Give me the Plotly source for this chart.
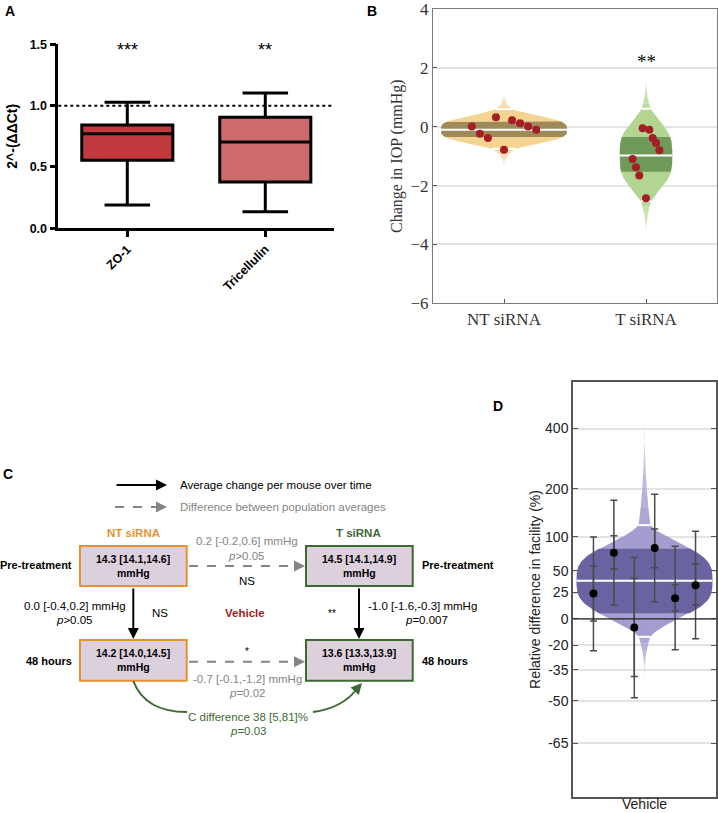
import numpy as np
import plotly.graph_objects as go

W_PX, H_PX = 718, 813
SANS = "Liberation Sans, Arial, sans-serif"
SERIF = "Liberation Serif, Times New Roman, serif"

# ---------------- Panel A data ----------------
a_genes = ["ZO-1", "Tricellulin"]
a_lower = [0.19, 0.135]
a_q1 = [0.555, 0.378]
a_median = [0.771, 0.704]
a_q3 = [0.842, 0.905]
a_upper = [1.027, 1.103]
a_stars = ["***", "**"]
a_colors = ["#c1393c", "#cd6a6d"]
a_reference = 1.0
a_yticks = [0.0, 0.5, 1.0, 1.5]

# ---------------- Panel B data ----------------
b_groups = ["NT siRNA", "T siRNA"]
b_nt_values = [0.01, -0.24, -0.38, 0.32, -0.78, 0.22, 0.12, 0.01, -0.10]
b_t_values = [-1.10, -1.38, -1.66, -0.05, -2.43, -0.10, -0.38, -0.55, -0.80]
b_mean = [-0.10, -0.98]
b_ci = [(-0.35, 0.18), (-1.53, -0.35)]
b_inner = [(-0.75, 0.59), (-2.52, 0.61)]
b_tails = [(-1.5, 1.3), (-4.1, 2.05)]
b_scale = [0.45, 1.08]
b_star = "**"
b_star_y = 2.22

# ---------------- Panel C data ----------------
c_nt_pre = (14.3, 14.1, 14.6)
c_t_pre = (14.5, 14.1, 14.9)
c_nt_48 = (14.2, 14.0, 14.5)
c_t_48 = (13.6, 13.3, 13.9)
c_diff_pre = (0.2, -0.2, 0.6)
c_diff_48 = (-0.7, -0.1, -1.2)
c_nt_change = (0.0, -0.4, 0.2)
c_t_change = (-1.0, -1.6, -0.3)
c_facility = (38, 5, 81)
c_p = {"diff_pre": ">0.05", "diff_48": "=0.02", "nt": ">0.05", "t": "=0.007", "fac": "=0.03"}

# ---------------- Panel D data ----------------
d_group = "Vehicle"
d_pct = [24, 75, -7, 82, 19, 33]
d_outer_lo = [-23.5, 12.3, -48.6, 15.7, -23, -15.5]
d_outer_hi = [100, 173, 68, 187, 85, 110]
d_inner_lo = [-1.7, 52.6, -38.5, 54, 7, 12.6]
d_inner_hi = [56, 102, 41, 114, 33.6, 59]
d_mean = 38
d_ci = (5, 81)
d_inner = (-14, 121)
d_tails = (-45, 600)
d_ticks = [400, 200, 100, 50, 25, 0, -20, -35, -50, -65]
d_range_pct = (-77.8, 641)


def PX(x):
    return x / W_PX


def PY(y):
    return 1 - y / H_PX


def make_hw(c, s, W, inner, tails, p=3.3, k=3.0):
    lo_in, hi_in = inner
    lo_end, hi_end = tails

    def core(u):
        return W * np.exp(-0.5 * np.abs((np.asarray(u, float) - c) / s) ** p)

    def hw(u):
        u = np.atleast_1d(np.asarray(u, float))
        w = core(np.clip(u, lo_in, hi_in))
        a = u > hi_in
        w[a] = core(hi_in) * np.clip((hi_end - u[a]) / (hi_end - hi_in), 0, 1) ** k
        b = u < lo_in
        w[b] = core(lo_in) * np.clip((u[b] - lo_end) / (lo_in - lo_end), 0, 1) ** k
        return w
    return hw


def poly(xc, u0, u1, hw, color, opacity, xa, ya, tf):
    u = np.linspace(u0, u1, 120)
    w = hw(u)
    xs = np.concatenate([xc + w, (xc - w)[::-1]])
    ys = np.concatenate([tf(u), tf(u)[::-1]])
    return go.Scatter(x=xs, y=ys, fill="toself", fillcolor=color, opacity=opacity,
                      mode="lines", line=dict(width=0, color=color), hoverinfo="skip",
                      showlegend=False, xaxis=xa, yaxis=ya)


def add_violin(fig, xc, hw, mean, band, inner, tails, cols, xa, ya, tf=lambda u: u):
    nseg = 8
    for start, end in [(inner[1], tails[1]), (inner[0], tails[0])]:
        edges = np.linspace(start, end, nseg + 1)
        for i in range(nseg):
            op = 0.9 - 0.75 * i / (nseg - 1)
            fig.add_trace(poly(xc, edges[i], edges[i + 1], hw, cols[0], op, xa, ya, tf))
    fig.add_trace(poly(xc, inner[0], inner[1], hw, cols[0], 1, xa, ya, tf))
    fig.add_trace(poly(xc, band[0], band[1], hw, cols[1], 1, xa, ya, tf))
    for u in [mean, inner[0], inner[1]]:
        w = hw(u)[0]
        fig.add_trace(go.Scatter(x=[xc - w, xc + w], y=[tf(np.array([u]))[0]] * 2, mode="lines",
                                 line=dict(color="white", width=2), hoverinfo="skip",
                                 showlegend=False, xaxis=xa, yaxis=ya))


fig = go.Figure()

# ================= Panel A =================
for i, g in enumerate(a_genes):
    fig.add_trace(go.Box(x=[i], q1=[a_q1[i]], median=[a_median[i]], q3=[a_q3[i]],
                         lowerfence=[a_lower[i]], upperfence=[a_upper[i]],
                         fillcolor=a_colors[i], line=dict(color="black", width=3),
                         width=0.66, whiskerwidth=0.5, boxpoints=False,
                         showlegend=False, xaxis="x", yaxis="y", hoverinfo="skip"))

# ================= Panel B =================
b_cols = [("#f4d492", "#9f8a5a"), ("#b2d692", "#6f9a59")]
b_series = [b_nt_values, b_t_values]
for i in range(2):
    xc = i + 1
    W = 0.2 / b_scale[i]
    hw = make_hw(b_mean[i], b_scale[i], W, b_inner[i], b_tails[i])
    add_violin(fig, xc, hw, b_mean[i], b_ci[i], b_inner[i], b_tails[i], b_cols[i], "x2", "y2")
    vals = b_series[i]
    offs = np.linspace(-0.51 * W, 0.51 * W, len(vals))
    fig.add_trace(go.Scatter(x=xc + offs, y=vals, mode="markers",
                             marker=dict(color="#a51e24", size=8), showlegend=False,
                             hoverinfo="skip", xaxis="x2", yaxis="y2"))

# ================= Panel D =================
to_log2 = lambda pct: np.log2(1 + np.asarray(pct, float) / 100)
from_log2 = lambda u: 2 ** np.asarray(u, float)
d_hw = make_hw(float(to_log2(d_mean)), 0.42, 0.475,
               tuple(to_log2(d_inner)), tuple(to_log2(d_tails)))
add_violin(fig, 0, d_hw, float(to_log2(d_mean)), tuple(to_log2(d_ci)),
           tuple(to_log2(d_inner)), tuple(to_log2(d_tails)),
           ("#a49dcf", "#6a63a2"), "x3", "y3", tf=from_log2)

d_y = 1 + np.array(d_pct) / 100
d_x = np.linspace(-0.357, 0.357, len(d_pct))
fig.add_trace(go.Scatter(
    x=d_x, y=d_y, mode="markers", marker=dict(size=1, color="rgba(0,0,0,0)"),
    error_y=dict(type="data", symmetric=False,
                 array=1 + np.array(d_outer_hi) / 100 - d_y,
                 arrayminus=d_y - (1 + np.array(d_outer_lo) / 100),
                 color="#4a4a4a", thickness=1.5, width=3.5),
    showlegend=False, hoverinfo="skip", xaxis="x3", yaxis="y3"))
fig.add_trace(go.Scatter(
    x=d_x, y=d_y, mode="markers", marker=dict(size=1, color="rgba(0,0,0,0)"),
    error_y=dict(type="data", symmetric=False,
                 array=1 + np.array(d_inner_hi) / 100 - d_y,
                 arrayminus=d_y - (1 + np.array(d_inner_lo) / 100),
                 color="#4a4a4a", thickness=1.5, width=3.5),
    showlegend=False, hoverinfo="skip", xaxis="x3", yaxis="y3"))
fig.add_trace(go.Scatter(x=d_x, y=d_y, mode="markers",
                         marker=dict(size=8, color="black"), showlegend=False,
                         hoverinfo="skip", xaxis="x3", yaxis="y3"))

# ================= Axes =================
bold_tick = dict(family=SANS, size=12.5, color="black", weight="bold")
fig.update_layout(
    width=W_PX, height=H_PX, margin=dict(l=0, r=0, t=0, b=0, autoexpand=False),
    paper_bgcolor="white", plot_bgcolor="white", showlegend=False,
    xaxis=dict(domain=[58.3 / W_PX, 334.3 / W_PX], anchor="y", range=[-0.5, 1.5],
               automargin=False, ticklabeloverflow="allow",
               tickvals=[0, 1], ticktext=a_genes, tickangle=-45, tickfont=bold_tick,
               showline=True, linecolor="black", linewidth=2.5, ticks="outside",
               ticklen=6, tickwidth=2.5, tickcolor="black", showgrid=False, zeroline=False),
    yaxis=dict(domain=[PY(228.3), PY(44.3)], anchor="x", range=[0, 1.5],
               automargin=False, ticklabeloverflow="allow",
               tickvals=a_yticks, tickformat=".1f", tickfont=bold_tick,
               showline=True, linecolor="black", linewidth=2.5, ticks="outside",
               ticklen=6, tickwidth=2.5, tickcolor="black", showgrid=False, zeroline=False,
               title=dict(text="2^-(ΔΔCt)", standoff=9,
                          font=dict(family=SANS, size=14, color="black", weight="bold"))),
    xaxis2=dict(domain=[433 / W_PX, 717 / W_PX], anchor="y2", range=[0.5, 2.5],
                automargin=False, ticklabeloverflow="allow",
                tickvals=[1, 2], ticktext=b_groups,
                tickfont=dict(family=SERIF, size=17, color="#333"),
                showline=True, mirror=True, linecolor="#7a7a7a", linewidth=1.2,
                ticks="inside", ticklen=4, tickcolor="#555", showgrid=False, zeroline=False),
    yaxis2=dict(domain=[PY(303.3), PY(9)], anchor="x2", range=[-6, 4], dtick=2,
                automargin=False, ticklabeloverflow="allow",
                tickfont=dict(family=SERIF, size=17, color="#333"),
                showline=True, mirror=True, linecolor="#7a7a7a", linewidth=1.2,
                ticks="inside", ticklen=4, tickcolor="#555",
                showgrid=True, gridcolor="#e4e4e4", gridwidth=1.5, zeroline=False,
                title=dict(text="Change in IOP (mmHg)", standoff=3,
                           font=dict(family=SERIF, size=16, color="#333"))),
    xaxis3=dict(domain=[573 / W_PX, 716 / W_PX], anchor="y3", range=[-0.5, 0.5],
                automargin=False, showticklabels=False,
                showline=True, mirror=True, linecolor="#555", linewidth=1.5,
                ticks="", showgrid=False, zeroline=False),
    yaxis3=dict(domain=[PY(797), PY(382)], anchor="x3", type="log",
                automargin=False, ticklabeloverflow="allow",
                range=[np.log10(1 + d_range_pct[0] / 100), np.log10(1 + d_range_pct[1] / 100)],
                tickvals=[1 + t / 100 for t in d_ticks], ticktext=[str(t) for t in d_ticks],
                tickfont=dict(family=SANS, size=14, color="#222"),
                showline=True, mirror="ticks", linecolor="#555", linewidth=1.5,
                ticks="inside", ticklen=5, tickcolor="#555",
                showgrid=True, gridcolor="#e3e3e3", gridwidth=1.5, zeroline=False,
                title=dict(text="Relative difference in facility (%)", standoff=1,
                           font=dict(family=SANS, size=14, color="#222"))),
)

shapes = []
annotations = []

# Panel A reference line and stars
shapes.append(dict(type="line", xref="x domain", yref="y", x0=0, x1=1,
                   y0=a_reference, y1=a_reference, line=dict(color="black", width=2, dash="dot")))
for i, s in enumerate(a_stars):
    annotations.append(dict(x=i, y=1.45, xref="x", yref="y", text=s, showarrow=False,
                            font=dict(family=SANS, size=18, color="black")))

# Panel B star
annotations.append(dict(x=2, y=b_star_y, xref="x2", yref="y2", text=b_star, showarrow=False,
                        font=dict(family=SERIF, size=19, color="black")))

# Panel D zero line and category label
shapes.append(dict(type="line", xref="x3 domain", yref="y3", x0=0, x1=1, y0=1, y1=1,
                   line=dict(color="#222", width=1.3), layer="above"))
annotations.append(dict(x=0, y=PY(804), xref="x3", yref="paper", text=d_group,
                        showarrow=False, yanchor="middle",
                        font=dict(family=SANS, size=14, color="#222")))

# Panel letters
for lab, x, y in [("A", 10, 11), ("B", 372, 11), ("C", 8, 474), ("D", 498, 406)]:
    annotations.append(dict(x=PX(x), y=PY(y), xref="paper", yref="paper", text=lab,
                            showarrow=False, xanchor="center", yanchor="middle",
                            font=dict(family=SANS, size=14, color="black", weight="bold")))

# ================= Panel C (diagram) =================
GRAY = "#858585"
ORANGE = "#e6932f"
GREEN = "#3d6a31"
BOXFILL = "#ddd0dd"


def txt(t, x, y, color="black", size=11.5, bold=False, xanchor="center"):
    annotations.append(dict(x=PX(x), y=PY(y), xref="paper", yref="paper", text=t,
                            showarrow=False, xanchor=xanchor, yanchor="middle",
                            font=dict(family=SANS, size=size, color=color,
                                      weight="bold" if bold else "normal")))


def arrow(x0, y0, x1, y1, color, width=2):
    annotations.append(dict(x=PX(x1), y=PY(y1), xref="paper", yref="paper", text="",
                            showarrow=True, ax=x0 - x1, ay=y0 - y1, arrowhead=2,
                            arrowsize=1.1, arrowwidth=width, arrowcolor=color, standoff=0))


def dashed_arrow(x0, y, x1, color):
    shapes.append(dict(type="line", xref="paper", yref="paper", x0=PX(x0), x1=PX(x1 - 8),
                       y0=PY(y), y1=PY(y), line=dict(color=color, width=2, dash="dash")))
    arrow(x1 - 9, y, x1, y, color)


def fmt(v):
    return f"{v[0]:.1f} [{v[1]:.1f},{v[2]:.1f}]"


# legend
arrow(115, 485, 167, 485, "black")
txt("Average change per mouse over time", 178, 485, xanchor="left")
dashed_arrow(115, 507, 167, GRAY)
txt("Difference between population averages", 178, 507, color=GRAY, xanchor="left")

txt("NT siRNA", 133.3, 533, color=ORANGE, bold=True)
txt("T siRNA", 358, 533, color=GREEN, bold=True)

boxes = [(80, 186.7, 546, 586, ORANGE, c_nt_pre), (306, 412.7, 546, 586, GREEN, c_t_pre),
         (80, 186.7, 640, 680.7, ORANGE, c_nt_48), (306, 412.7, 640, 680.7, GREEN, c_t_48)]
for x0, x1, y0, y1, col, vals in boxes:
    shapes.append(dict(type="rect", xref="paper", yref="paper", x0=PX(x0), x1=PX(x1),
                       y0=PY(y1), y1=PY(y0), fillcolor=BOXFILL, line=dict(color=col, width=2)))
    cy = (y0 + y1) / 2
    txt(fmt(vals), (x0 + x1) / 2, cy - 7, size=10.5, bold=True)
    txt("mmHg", (x0 + x1) / 2, cy + 7, size=10.5, bold=True)

txt("Pre-treatment", 74, 565, size=11, bold=True, xanchor="right")
txt("Pre-treatment", 420, 565, size=11, bold=True, xanchor="left")
txt("48 hours", 74, 661, size=11, bold=True, xanchor="right")
txt("48 hours", 420, 661, size=11, bold=True, xanchor="left")

# horizontal comparisons
dashed_arrow(189, 566, 305, GRAY)
txt(fmt(c_diff_pre) + " mmHg", 246.7, 541, color=GRAY)
txt("<i>p</i>" + c_p["diff_pre"], 246.7, 556, color=GRAY)
txt("NS", 246.7, 581)

dashed_arrow(189, 661.7, 305, GRAY)
txt("*", 247.3, 651, size=10)
txt(fmt(c_diff_48) + " mmHg", 247.7, 678.5, color=GRAY)
txt("<i>p</i>" + c_p["diff_48"], 247.7, 693, color=GRAY)

# vertical changes
arrow(133.3, 587, 133.3, 639, "black")
arrow(359, 587, 359, 639, "black")
txt(fmt(c_nt_change) + " mmHg", 75, 606)
txt("<i>p</i>" + c_p["nt"], 74, 619.5)
txt("NS", 160, 613)
txt("Vehicle", 245, 613, color="#9b1d22", bold=True)
txt("**", 331.7, 613, size=10)
txt(fmt(c_t_change) + " mmHg", 422.7, 606)
txt("<i>p</i>" + c_p["t"], 426.7, 619.5)

# curved facility arrow
shapes.append(dict(type="path", xref="paper", yref="paper",
                   path=f"M {PX(133.3)},{PY(681)} Q {PX(145)},{PY(712)} {PX(187)},{PY(712)}",
                   line=dict(color=GREEN, width=2)))
shapes.append(dict(type="path", xref="paper", yref="paper",
                   path=f"M {PX(313)},{PY(712)} Q {PX(342)},{PY(708)} {PX(356)},{PY(690)}",
                   line=dict(color=GREEN, width=2)))
arrow(354, 692, 362, 683, GREEN)
txt(f"C difference {c_facility[0]} [{c_facility[1]},{c_facility[2]}]%", 248.3, 717, color=GREEN)
txt("<i>p</i>" + c_p["fac"], 248.3, 731, color=GREEN)

fig.update_layout(shapes=shapes, annotations=annotations)
fig.write_html("out.html", config={"displayModeBar": False},
               post_script="document.body.style.margin='0px';"
                           "document.body.style.overflow='hidden';")
